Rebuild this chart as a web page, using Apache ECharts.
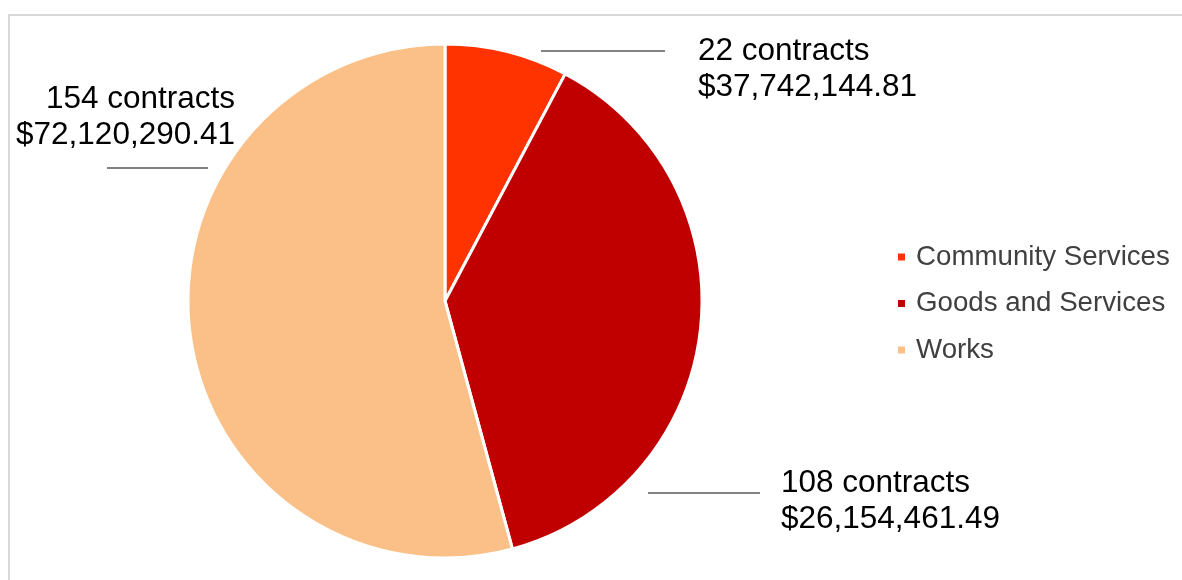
<!DOCTYPE html>
<html>
<head>
<meta charset="utf-8">
<script src="https://cdn.jsdelivr.net/npm/echarts@6/dist/echarts.min.js"></script>
<style>
html,body{margin:0;padding:0;background:#fff;}
#chart{width:1182px;height:580px;}
</style>
</head>
<body>
<div id="chart"></div>
<script>
const categories = ['Community Services', 'Goods and Services', 'Works'];
const contracts = [22, 108, 154];
const amounts = ['$37,742,144.81', '$26,154,461.49', '$72,120,290.41'];
const colors = ['#FF3300', '#C00000', '#FAC088'];

// label placement (text anchor + leader line) per slice
const labelPlace = [
  {x: 698, y: 69, align: 'left', line: [[541, 51], [665, 51]]},
  {x: 781, y: 501, align: 'left', line: [[648, 493], [760, 493]]},
  {x: 235, y: 117, align: 'right', line: [[107, 168], [208, 168]]}
];

const chart = echarts.init(document.getElementById('chart'));
chart.setOption({
  animation: false,
  backgroundColor: '#fff',
  graphic: [{
    type: 'rect',
    shape: {x: 9, y: 15, width: 1400, height: 800},
    style: {fill: 'none', stroke: '#d9d9d9', lineWidth: 2},
    silent: true, z: -10
  }],
  legend: {
    orient: 'vertical',
    left: 891,
    top: 238,
    icon: 'rect',
    itemWidth: 9,
    itemHeight: 9,
    itemGap: 18.5,
    data: categories,
    textStyle: {
      fontFamily: 'Liberation Sans',
      fontSize: 27.7,
      lineHeight: 28,
      color: '#404040',
      padding: [0, 0, 0, 5]
    }
  },
  series: [{
    type: 'pie',
    center: [445, 301],
    radius: 257,
    startAngle: 90,
    clockwise: true,
    avoidLabelOverlap: false,
    itemStyle: {borderColor: '#fff', borderWidth: 3},
    data: categories.map((c, i) => ({name: c, value: contracts[i], itemStyle: {color: colors[i]}})),
    label: {
      show: true,
      formatter: p => p.value + ' contracts\n' + amounts[p.dataIndex],
      fontFamily: 'Liberation Sans',
      fontSize: 31.5,
      lineHeight: 36,
      color: '#000'
    },
    labelLine: {
      show: true,
      lineStyle: {color: '#595959', width: 1.3}
    },
    labelLayout: function (params) {
      const L = labelPlace[params.dataIndex];
      return {
        x: L.x, y: L.y, align: L.align, verticalAlign: 'middle',
        labelLinePoints: L.line
      };
    },
    emphasis: {disabled: true}
  }]
});
</script>
</body>
</html>
